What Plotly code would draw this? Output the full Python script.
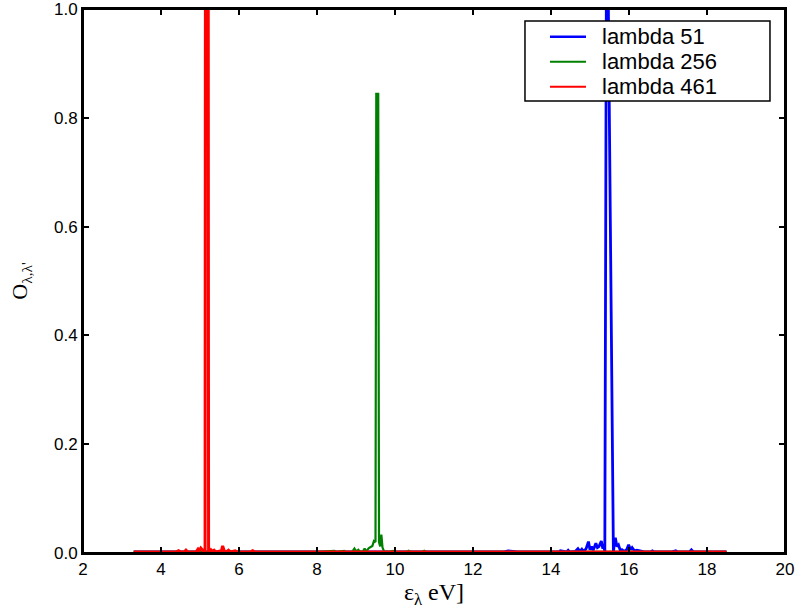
import plotly.graph_objects as go

# ---- data ----
names = ["lambda 51", "lambda 256", "lambda 461"]
colors = ["#0000ff", "#008000", "#ff0000"]

x51 = [3.30, 8.00, 12.80, 12.90, 13.10, 13.15, 13.60, 14.20, 14.24, 14.40, 14.44, 14.48, 14.62, 14.69, 14.74,
       14.79, 14.83, 14.90, 14.96, 15.00, 15.04, 15.08, 15.11, 15.15, 15.19, 15.23, 15.29, 15.33, 15.36,
       15.38, 15.43, 15.60, 15.62, 15.65, 15.69, 15.73, 15.78, 15.82, 15.88, 15.94, 15.99, 16.04, 16.08,
       16.14, 16.20, 16.30, 16.40, 16.55, 16.60, 16.65, 17.10, 17.20, 17.25, 17.55, 17.60, 17.65, 18.50]
y51 = [0.002, 0.002, 0.002, 0.004, 0.003, 0.002, 0.002, 0.002, 0.004, 0.002, 0.005, 0.002, 0.003, 0.008, 0.003,
       0.007, 0.003, 0.008, 0.021, 0.006, 0.012, 0.005, 0.010, 0.018, 0.010, 0.012, 0.022, 0.008, 0.014,
       0.000, 1.320, 0.000, 0.016, 0.028, 0.012, 0.015, 0.004, 0.006, 0.003, 0.006, 0.015, 0.006, 0.010,
       0.004, 0.005, 0.003, 0.002, 0.002, 0.004, 0.002, 0.002, 0.004, 0.002, 0.002, 0.006, 0.002, 0.002]

x256 = [3.30, 8.00, 8.45, 8.50, 8.70, 8.74, 8.90, 8.96, 9.00, 9.06, 9.10, 9.18, 9.22, 9.26, 9.33, 9.38,
        9.42, 9.46, 9.50, 9.52, 9.57, 9.59, 9.62, 9.65, 9.68, 9.72, 9.85, 9.95, 10.00, 10.30, 10.35, 10.40,
        10.70, 10.75, 10.80, 18.50]
y256 = [0.002, 0.002, 0.004, 0.002, 0.004, 0.002, 0.002, 0.008, 0.003, 0.006, 0.002, 0.003, 0.008, 0.003, 0.009, 0.011,
        0.013, 0.022, 0.020, 0.844, 0.844, 0.020, 0.012, 0.034, 0.010, 0.003, 0.002, 0.004, 0.002, 0.002, 0.004, 0.002,
        0.002, 0.004, 0.002, 0.002]

x461 = [3.30, 4.40, 4.45, 4.50, 4.60, 4.64, 4.68, 4.90, 4.95, 4.98, 5.02, 5.06, 5.13, 5.14, 5.21, 5.22,
        5.28, 5.32, 5.36, 5.40, 5.45, 5.55, 5.58, 5.62, 5.68, 5.73, 5.78, 5.90, 5.95, 6.30, 6.35, 6.40, 18.50]
y461 = [0.002, 0.002, 0.004, 0.002, 0.002, 0.005, 0.002, 0.002, 0.007, 0.004, 0.009, 0.005, 0.000, 1.200, 1.200, 0.000,
        0.006, 0.003, 0.005, 0.002, 0.003, 0.004, 0.013, 0.004, 0.002, 0.005, 0.002, 0.004, 0.002, 0.002, 0.004, 0.002, 0.002]

series_x = [x51, x256, x461]
series_y = [y51, y256, y461]
widths = [2.8, 2.2, 3.0]
legend_widths = [2.6, 2.0, 2.0]

x_ticks = [2, 4, 6, 8, 10, 12, 14, 16, 18, 20]
y_ticks = [0.0, 0.2, 0.4, 0.6, 0.8, 1.0]

fig = go.Figure()
for nm, c, xs, ys, w in zip(names, colors, series_x, series_y, widths):
    fig.add_trace(go.Scatter(x=xs, y=ys, mode="lines", name=nm, showlegend=False,
                             line=dict(color=c, width=w)))

axis_common = dict(showline=True, linecolor="black", linewidth=2, mirror="ticks",
                   ticks="inside", ticklen=6, tickwidth=1.5, tickcolor="black",
                   showgrid=False, zeroline=False, automargin=False,
                   ticklabeloverflow="allow",
                   tickfont=dict(family="Liberation Sans, Arial", size=17, color="black"))

# frame around the plot area
fig.add_shape(type="rect", xref="paper", yref="paper", x0=0, x1=1, y0=0, y1=1,
              line=dict(color="black", width=2), layer="above")

# hand-drawn legend box (paper coordinates)
box = dict(x0=0.6296, x1=0.9786, y0=0.8309, y1=0.9779)
row_y = [0.9491, 0.9032, 0.8572]
fig.add_shape(type="rect", xref="paper", yref="paper", **box,
              line=dict(color="black", width=1.5), fillcolor="white", layer="above")
for nm, c, lw, yy in zip(names, colors, legend_widths, row_y):
    fig.add_shape(type="line", xref="paper", yref="paper", x0=0.6652, x1=0.7165, y0=yy, y1=yy,
                  line=dict(color=c, width=lw), layer="above")
    fig.add_annotation(xref="paper", yref="paper", x=0.7365, y=yy, text=nm, showarrow=False,
                       xanchor="left", yanchor="middle",
                       font=dict(family="Liberation Sans, Arial", size=22, color="black"))

fig.update_layout(
    width=798, height=610, autosize=False,
    margin=dict(l=83, r=13, t=9, b=57),
    paper_bgcolor="white", plot_bgcolor="white",
    showlegend=False,
    xaxis=dict(range=[2, 20], tickvals=x_ticks, ticktext=[str(v) for v in x_ticks],
               title=dict(text="ε<sub>λ</sub> eV]", standoff=4,
                          font=dict(family="Liberation Serif, Times New Roman", size=24, color="black")),
               **axis_common),
    yaxis=dict(range=[0, 1], tickvals=y_ticks, ticktext=[f"{v:.1f}" for v in y_ticks],
               title=dict(text="O<sub>λ,λ'</sub>", standoff=20,
                          font=dict(family="Liberation Serif, Times New Roman", size=22, color="black")),
               **axis_common),
)

fig.write_html("out.html")
